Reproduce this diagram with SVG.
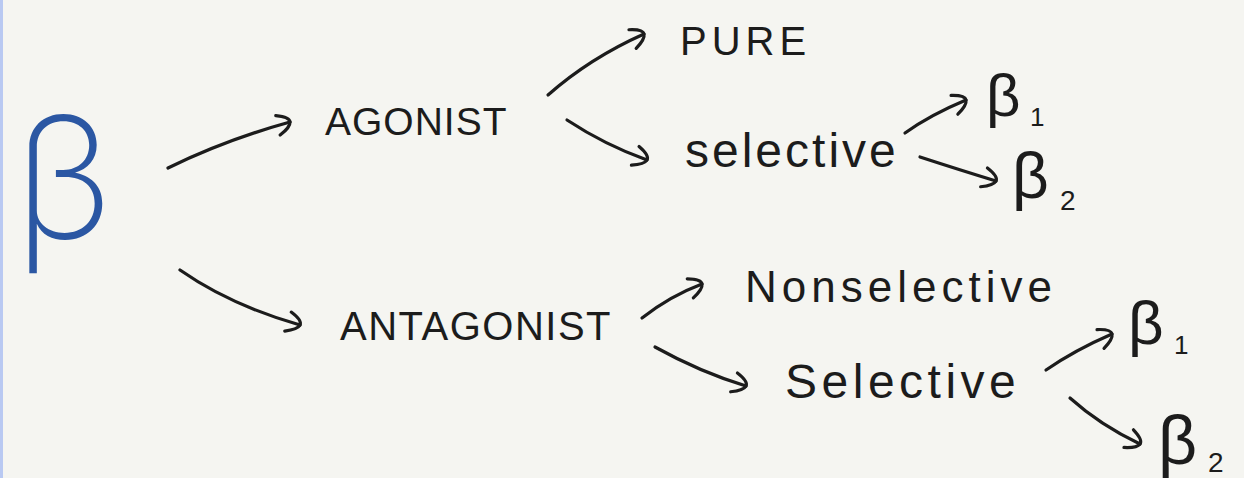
<svg xmlns="http://www.w3.org/2000/svg" width="1244" height="478" viewBox="0 0 1244 478">
  <defs>
    <marker id="head" markerUnits="userSpaceOnUse" viewBox="-16 -14 20 28" markerWidth="20" markerHeight="28" refX="0" refY="0" orient="auto" overflow="visible">
      <path d="M -12 -10 Q 1 -5 0 0 Q -1 5 -13 10" fill="none" stroke="#1c1c1c" stroke-width="3.2" stroke-linecap="round" stroke-linejoin="round"/>
    </marker>
    <style>
      .ink { font-family: "Liberation Sans", Arial, sans-serif; fill: #1c1c1c; }
      .beta { font-family: "Liberation Sans", Arial, sans-serif; fill: #1c1c1c; }
      .conn { fill: none; stroke: #1c1c1c; stroke-width: 3.2; stroke-linecap: round; marker-end: url(#head); }
    </style>
  </defs>
  <rect x="0" y="0" width="1244" height="478" fill="#f5f5f1"/>
  <rect x="0" y="0" width="3" height="478" fill="#b9c9f2"/>

  <g id="connectors">
    <path class="conn" d="M 168 168 Q 225 140 290 122"/>
    <path class="conn" d="M 548 95 Q 590 58 644 34"/>
    <path class="conn" d="M 567 120 Q 605 145 647 160"/>
    <path class="conn" d="M 905 133 Q 930 115 966 100"/>
    <path class="conn" d="M 920 157 Q 960 170 996 181"/>
    <path class="conn" d="M 180 270 Q 230 305 300 325"/>
    <path class="conn" d="M 642 318 Q 670 296 702 284"/>
    <path class="conn" d="M 655 347 Q 700 372 746 386"/>
    <path class="conn" d="M 1046 370 Q 1075 350 1112 334"/>
    <path class="conn" d="M 1070 398 Q 1100 425 1140 444"/>
  </g>

  <g id="beta">
    <text x="14" y="239" font-size="170" font-family="Inter, 'Liberation Sans', sans-serif" font-weight="200" fill="#2b57a3">β</text>
  </g>
  <g id="agonist">
    <text class="ink" x="325" y="135" font-size="39" letter-spacing="1">AGONIST</text>
  </g>
  <g id="pure">
    <text class="ink" x="680" y="55" font-size="40" letter-spacing="5">PURE</text>
  </g>
  <g id="agonist-selective">
    <text class="ink" x="685" y="167" font-size="48" letter-spacing="3">selective</text>
  </g>
  <g id="agonist-beta1">
    <text class="beta" x="986" y="116" font-size="60">β</text>
    <text class="beta" x="1030" y="126" font-size="26">1</text>
  </g>
  <g id="agonist-beta2">
    <text class="beta" x="1012" y="198" font-size="64">β</text>
    <text class="beta" x="1060" y="210" font-size="28">2</text>
  </g>
  <g id="antagonist">
    <text class="ink" x="340" y="340" font-size="40" letter-spacing="1.5">ANTAGONIST</text>
  </g>
  <g id="nonselective">
    <text class="ink" x="745" y="302" font-size="44" letter-spacing="5">Nonselective</text>
  </g>
  <g id="antagonist-selective">
    <text class="ink" x="785" y="398" font-size="48" letter-spacing="4.5">Selective</text>
  </g>
  <g id="antagonist-beta1">
    <text class="beta" x="1128" y="344" font-size="62">β</text>
    <text class="beta" x="1174" y="354" font-size="26">1</text>
  </g>
  <g id="antagonist-beta2">
    <text class="beta" x="1158" y="464" font-size="68">β</text>
    <text class="beta" x="1208" y="472" font-size="28">2</text>
  </g>
</svg>
